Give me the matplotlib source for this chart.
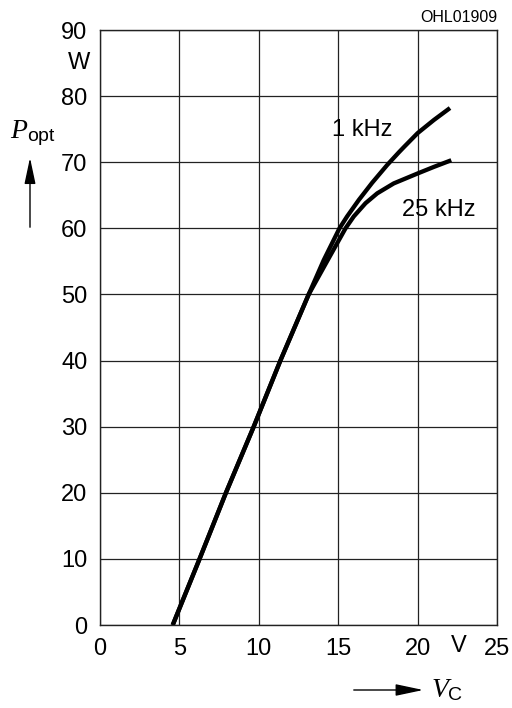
import matplotlib
matplotlib.use("Agg")
import matplotlib.pyplot as plt

plt.rcParams['font.family'] = ['Liberation Sans', 'DejaVu Sans']
plt.rcParams['mathtext.fontset'] = 'custom'
plt.rcParams['mathtext.rm'] = 'Liberation Sans'
plt.rcParams['mathtext.it'] = 'Liberation Serif:italic'

# curves (V_C in V, P_opt in W)
v_1khz = [4.58, 6.27, 7.93, 9.68, 11.36, 13.14, 14.09, 15.08, 15.56, 16.3, 17.14, 18.09,
          18.82, 19.14, 20.0, 21.03, 22.04]
p_1khz = [0, 10, 20, 30, 40, 50, 55.2, 60, 61.8, 64.3, 66.9, 69.6,
          71.5, 72.3, 74.4, 76.4, 78.2]

v_25khz = [4.58, 6.27, 7.93, 9.68, 11.36, 13.14, 14.34, 15.46, 15.98, 16.72, 17.46, 18.5,
           20.0, 21.03, 22.12]
p_25khz = [0, 10, 20, 30, 40, 50, 55.2, 60, 61.8, 63.8, 65.3, 66.8,
           68.3, 69.3, 70.3]

x_ticks = [0, 5, 10, 15, 20, 25]
y_ticks = [0, 10, 20, 30, 40, 50, 60, 70, 80, 90]

fig = plt.figure(figsize=(5.12, 7.08), dpi=100)
ax = fig.add_axes([0.1953, 0.1172, 0.7754, 0.8404])

ax.plot(v_1khz, p_1khz, color='black', lw=3.1, solid_capstyle='butt', solid_joinstyle='round')
ax.plot(v_25khz, p_25khz, color='black', lw=3.1, solid_capstyle='butt', solid_joinstyle='round')

ax.set_xlim(0, 25)
ax.set_ylim(0, 90)
ax.set_xticks(x_ticks)
ax.set_yticks(y_ticks)
ax.set_xticklabels([str(t) for t in x_ticks])
ax.set_yticklabels([str(t) for t in y_ticks])
ax.tick_params(length=0, labelsize=17, pad=9)
ax.grid(True, color='#222222', lw=0.9)
for s in ax.spines.values():
    s.set_linewidth(1.0)
    s.set_color('#222222')

# unit labels sitting among the tick labels
ax.text(-0.026, 85, 'W', transform=ax.get_yaxis_transform(), ha='right', va='center', fontsize=17)
ax.text(22.6, -0.017, 'V', transform=ax.get_xaxis_transform(), ha='center', va='top', fontsize=17)

# curve labels
ax.text(14.6, 74.9, '1 kHz', fontsize=17, va='center')
ax.text(19.0, 62.8, '25 kHz', fontsize=17, va='center')

fig.text(497 / 512, 1 - 18 / 708, 'OHL01909', ha='right', va='center', fontsize=11.5)

# axis names with arrows
fig.text(10 / 512, 1 - 133 / 708, r'$\mathit{P}_{\mathrm{opt}}$', ha='left', va='center', fontsize=20)
fig.add_artist(matplotlib.patches.FancyArrowPatch(
    (30 / 512, 1 - 230 / 708), (30 / 512, 1 - 155 / 708), transform=fig.transFigure,
    arrowstyle='-|>,head_length=16,head_width=3.4', color='black', lw=1.0, mutation_scale=1))
fig.text(431 / 512, 1 - 690 / 708, r'$\mathit{V}_{\mathrm{C}}$', ha='left', va='center', fontsize=20)
fig.add_artist(matplotlib.patches.FancyArrowPatch(
    (351 / 512, 1 - 690 / 708), (426 / 512, 1 - 690 / 708), transform=fig.transFigure,
    arrowstyle='-|>,head_length=17,head_width=3.6', color='black', lw=1.0, mutation_scale=1))

fig.savefig('out.png', dpi=100)
